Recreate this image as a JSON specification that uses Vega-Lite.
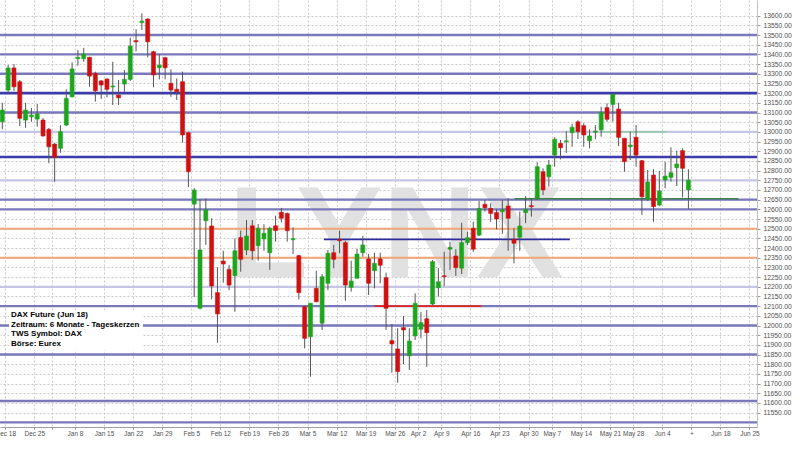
{
  "$schema": "https://vega.github.io/schema/vega-lite/v6.json",
  "width": 757,
  "height": 427,
  "autosize": {"type": "none"},
  "padding": {"left": 0, "top": 0, "right": 43, "bottom": 23},
  "background": "#ffffff",
  "config": {"view": {"stroke": null}, "font": "Liberation Sans", "axis": {"labelOverlap": false, "labelFlush": false}},
  "resolve": {"axis": {"x": "independent", "y": "independent"}},
  "datasets": {
    "candles": [
      {"k":0,"o":13052,"h":13150,"l":13013,"c":13113},
      {"k":1,"o":13216,"h":13345,"l":13200,"c":13330},
      {"k":2,"o":13330,"h":13350,"l":13212,"c":13233},
      {"k":3,"o":13259,"h":13268,"l":13030,"c":13070},
      {"k":4,"o":13061,"h":13150,"l":13021,"c":13113},
      {"k":5,"o":13078,"h":13123,"l":13052,"c":13087},
      {"k":6,"o":13066,"h":13144,"l":13027,"c":13092},
      {"k":7,"o":13061,"h":13072,"l":12975,"c":12979},
      {"k":8,"o":13013,"h":13020,"l":12838,"c":12923},
      {"k":9,"o":12937,"h":12942,"l":12743,"c":12869},
      {"k":10,"o":12915,"h":13035,"l":12892,"c":13001},
      {"k":11,"o":13035,"h":13220,"l":13030,"c":13173},
      {"k":12,"o":13181,"h":13359,"l":13178,"c":13325},
      {"k":13,"o":13378,"h":13423,"l":13342,"c":13385},
      {"k":14,"o":13378,"h":13434,"l":13362,"c":13402},
      {"k":15,"o":13385,"h":13388,"l":13233,"c":13288},
      {"k":16,"o":13302,"h":13311,"l":13156,"c":13212},
      {"k":17,"o":13263,"h":13268,"l":13170,"c":13242},
      {"k":18,"o":13273,"h":13276,"l":13178,"c":13220},
      {"k":19,"o":13232,"h":13362,"l":13139,"c":13237},
      {"k":20,"o":13190,"h":13268,"l":13139,"c":13176},
      {"k":21,"o":13247,"h":13319,"l":13207,"c":13271},
      {"k":22,"o":13271,"h":13486,"l":13263,"c":13443},
      {"k":23,"o":13471,"h":13531,"l":13417,"c":13465},
      {"k":24,"o":13564,"h":13612,"l":13526,"c":13572},
      {"k":25,"o":13583,"h":13586,"l":13385,"c":13465},
      {"k":26,"o":13414,"h":13419,"l":13230,"c":13294},
      {"k":27,"o":13331,"h":13402,"l":13271,"c":13345},
      {"k":28,"o":13383,"h":13388,"l":13271,"c":13331},
      {"k":29,"o":13251,"h":13323,"l":13181,"c":13216},
      {"k":30,"o":13220,"h":13276,"l":13164,"c":13207},
      {"k":31,"o":13259,"h":13311,"l":12944,"c":12984},
      {"k":32,"o":12996,"h":13001,"l":12715,"c":12794},
      {"k":33,"o":12627,"h":12710,"l":12147,"c":12700},
      {"k":34,"o":12089,"h":12653,"l":12084,"c":12390},
      {"k":35,"o":12541,"h":12657,"l":12416,"c":12597},
      {"k":36,"o":12514,"h":12554,"l":12135,"c":12204},
      {"k":37,"o":12170,"h":12301,"l":11911,"c":12060},
      {"k":38,"o":12333,"h":12386,"l":12221,"c":12318},
      {"k":39,"o":12290,"h":12313,"l":12183,"c":12209},
      {"k":40,"o":12257,"h":12450,"l":12071,"c":12386},
      {"k":41,"o":12454,"h":12490,"l":12278,"c":12342},
      {"k":42,"o":12390,"h":12545,"l":12364,"c":12462},
      {"k":43,"o":12515,"h":12545,"l":12338,"c":12386},
      {"k":44,"o":12412,"h":12524,"l":12335,"c":12502},
      {"k":45,"o":12447,"h":12523,"l":12386,"c":12476},
      {"k":46,"o":12376,"h":12510,"l":12287,"c":12502},
      {"k":47,"o":12515,"h":12567,"l":12433,"c":12490},
      {"k":48,"o":12585,"h":12608,"l":12533,"c":12554},
      {"k":49,"o":12579,"h":12583,"l":12433,"c":12490},
      {"k":50,"o":12443,"h":12507,"l":12369,"c":12449},
      {"k":51,"o":12361,"h":12364,"l":12135,"c":12170},
      {"k":52,"o":12097,"h":12101,"l":11882,"c":11934},
      {"k":53,"o":11942,"h":12115,"l":11736,"c":12115},
      {"k":54,"o":12192,"h":12283,"l":12120,"c":12123},
      {"k":55,"o":12012,"h":12266,"l":11977,"c":12252},
      {"k":56,"o":12218,"h":12390,"l":12183,"c":12373},
      {"k":57,"o":12376,"h":12416,"l":12296,"c":12342},
      {"k":58,"o":12445,"h":12490,"l":12373,"c":12438},
      {"k":59,"o":12428,"h":12438,"l":12128,"c":12209},
      {"k":60,"o":12197,"h":12335,"l":12175,"c":12230},
      {"k":61,"o":12244,"h":12395,"l":12244,"c":12369},
      {"k":62,"o":12376,"h":12462,"l":12355,"c":12416},
      {"k":63,"o":12344,"h":12369,"l":12158,"c":12218},
      {"k":64,"o":12283,"h":12376,"l":12192,"c":12321},
      {"k":65,"o":12344,"h":12376,"l":12218,"c":12311},
      {"k":66,"o":12247,"h":12273,"l":11977,"c":12089},
      {"k":67,"o":11922,"h":12008,"l":11756,"c":11905},
      {"k":68,"o":11879,"h":11986,"l":11705,"c":11762},
      {"k":69,"o":11989,"h":12049,"l":11801,"c":11977},
      {"k":70,"o":11844,"h":11986,"l":11770,"c":11920},
      {"k":71,"o":11946,"h":12166,"l":11925,"c":12115},
      {"k":72,"o":11981,"h":12071,"l":11934,"c":12015},
      {"k":73,"o":12035,"h":12080,"l":11787,"c":11963},
      {"k":74,"o":12111,"h":12338,"l":12106,"c":12330},
      {"k":75,"o":12195,"h":12296,"l":12149,"c":12226},
      {"k":76,"o":12257,"h":12381,"l":12204,"c":12252},
      {"k":77,"o":12394,"h":12433,"l":12287,"c":12404},
      {"k":78,"o":12359,"h":12394,"l":12256,"c":12299},
      {"k":79,"o":12296,"h":12531,"l":12266,"c":12428},
      {"k":80,"o":12428,"h":12484,"l":12416,"c":12454},
      {"k":81,"o":12502,"h":12536,"l":12381,"c":12394},
      {"k":82,"o":12467,"h":12643,"l":12462,"c":12605},
      {"k":83,"o":12626,"h":12648,"l":12588,"c":12608},
      {"k":84,"o":12605,"h":12631,"l":12536,"c":12579},
      {"k":85,"o":12583,"h":12600,"l":12497,"c":12550},
      {"k":86,"o":12588,"h":12648,"l":12473,"c":12597},
      {"k":87,"o":12617,"h":12658,"l":12386,"c":12554},
      {"k":88,"o":12445,"h":12502,"l":12321,"c":12425},
      {"k":89,"o":12456,"h":12588,"l":12386,"c":12514},
      {"k":90,"o":12583,"h":12669,"l":12529,"c":12600},
      {"k":91,"o":12619,"h":12658,"l":12562,"c":12614},
      {"k":92,"o":12657,"h":12843,"l":12648,"c":12820},
      {"k":93,"o":12794,"h":12812,"l":12674,"c":12700},
      {"k":94,"o":12768,"h":12855,"l":12717,"c":12829},
      {"k":95,"o":12880,"h":12972,"l":12820,"c":12962},
      {"k":96,"o":12941,"h":12958,"l":12858,"c":12918},
      {"k":97,"o":12949,"h":13004,"l":12892,"c":12954},
      {"k":98,"o":12996,"h":13041,"l":12923,"c":13024},
      {"k":99,"o":13052,"h":13060,"l":12963,"c":13001},
      {"k":100,"o":13032,"h":13044,"l":12923,"c":12984},
      {"k":101,"o":12954,"h":13013,"l":12915,"c":12979},
      {"k":102,"o":12998,"h":13035,"l":12962,"c":13004},
      {"k":103,"o":13010,"h":13130,"l":12975,"c":13101},
      {"k":104,"o":13125,"h":13147,"l":13052,"c":13065},
      {"k":105,"o":13142,"h":13199,"l":13052,"c":13194},
      {"k":106,"o":13118,"h":13151,"l":12927,"c":12972},
      {"k":107,"o":12967,"h":12967,"l":12794,"c":12846},
      {"k":108,"o":12923,"h":13001,"l":12855,"c":12932},
      {"k":109,"o":12972,"h":13035,"l":12820,"c":12880},
      {"k":110,"o":12851,"h":12855,"l":12571,"c":12665},
      {"k":111,"o":12653,"h":12803,"l":12643,"c":12741},
      {"k":112,"o":12777,"h":12807,"l":12536,"c":12614},
      {"k":113,"o":12622,"h":12798,"l":12617,"c":12695},
      {"k":114,"o":12751,"h":12846,"l":12709,"c":12772},
      {"k":115,"o":12765,"h":12920,"l":12743,"c":12789},
      {"k":116,"o":12815,"h":12903,"l":12720,"c":12834},
      {"k":117,"o":12903,"h":12915,"l":12662,"c":12812},
      {"k":118,"o":12700,"h":12807,"l":12602,"c":12751}
    ],
    "hlines": [
      {"p":13500,"kind":"medium"},
      {"p":13400,"kind":"medium"},
      {"p":13300,"kind":"medium"},
      {"p":13200,"kind":"thick"},
      {"p":13100,"kind":"medium"},
      {"p":13000,"kind":"light"},
      {"p":12870,"kind":"thick"},
      {"p":12750,"kind":"light"},
      {"p":12650,"kind":"medium"},
      {"p":12600,"kind":"medium"},
      {"p":12500,"kind":"orange"},
      {"p":12350,"kind":"orange"},
      {"p":12200,"kind":"light"},
      {"p":12100,"kind":"medium"},
      {"p":12000,"kind":"medium"},
      {"p":11850,"kind":"medium"},
      {"p":11610,"kind":"medium"},
      {"p":11500,"kind":"medium"}
    ],
    "segs": [
      {"k1":64.0,"k2":82.4,"p":12100,"kind":"red"},
      {"k1":55.3,"k2":97.6,"p":12445,"kind":"navy"},
      {"k1":88.1,"k2":126.6,"p":12655,"kind":"green"},
      {"k1":102.8,"k2":114.3,"p":13000,"kind":"lightgreen"}
    ],
    "mark": [{"t":"LYNX","k":67.7,"p":12250}],
    "box": [{"k1":1.15,"k2":24.2,"p1":12080,"p2":11874}],
    "info": [
      {"t":"DAX Future (Jun 18)","k":1.5,"p":12054},
      {"t":"Zeitraum: 6 Monate - Tageskerzen","k":1.5,"p":12003},
      {"t":"TWS Symbol: DAX","k":1.5,"p":11956},
      {"t":"Börse: Eurex","k":1.5,"p":11905}
    ]
  },
  "layer": [
    {
      "data": {"name": "candles"},
      "mark": {"type": "rule", "strokeWidth": 0, "opacity": 0},
      "encoding": {
        "x": {
          "field": "k", "type": "quantitative", "title": null,
          "scale": {"domain": [-0.4, 129.8], "nice": false, "zero": false, "padding": 0},
          "axis": {
            "orient": "bottom",
            "title": null,
            "values": [0.5,5.5,8.5,12.5,17.5,22.5,27.5,32.5,37.5,42.5,47.5,52.5,57.5,62.5,67.5,71.5,75.5,80.5,85.5,90.5,94.5,99.5,104.5,108.5,113.5,118.5,123.5,128.5],
            "labelExpr": "['Dec 18','Dec 25','','Jan 8','Jan 15','Jan 22','Jan 29','Feb 5','Feb 12','Feb 19','Feb 26','Mar 5','Mar 12','Mar 19','Mar 26','Apr 2','Apr 9','Apr 16','Apr 23','Apr 30','May 7','May 14','May 21','May 28','Jun 4','+','Jun 18','Jun 25'][indexof([0.5,5.5,8.5,12.5,17.5,22.5,27.5,32.5,37.5,42.5,47.5,52.5,57.5,62.5,67.5,71.5,75.5,80.5,85.5,90.5,94.5,99.5,104.5,108.5,113.5,118.5,123.5,128.5], datum.value)]",
            "labelOverlap": false,
            "labelFlush": false,
            "labelFont": "Liberation Sans",
            "labelFontSize": 6.5,
            "labelColor": "#505050",
            "labelPadding": 1,
            "tickSize": 2,
            "tickColor": "#999999",
            "domainColor": "#a0a0a0",
            "grid": true,
            "gridDash": [2, 2],
            "gridColor": "#c9c9c9",
            "gridWidth": 1
          }
        },
        "y": {
          "field": "l", "type": "quantitative", "title": null,
          "scale": {"domain": [11476, 13681], "nice": false, "zero": false, "padding": 0},
          "axis": {
            "orient": "right",
            "title": null,
            "values": [11550,11600,11650,11700,11750,11800,11850,11900,11950,12000,12050,12100,12150,12200,12250,12300,12350,12400,12450,12500,12550,12600,12650,12700,12750,12800,12850,12900,12950,13000,13050,13100,13150,13200,13250,13300,13350,13400,13450,13500,13550,13600],
            "format": ".2f",
            "labelOverlap": false,
            "labelFlush": false,
            "labelFont": "Liberation Sans",
            "labelFontSize": 6.8,
            "labelColor": "#505050",
            "labelPadding": 3,
            "tickSize": 3,
            "tickColor": "#999999",
            "domainColor": "#c0c0c0",
            "grid": true,
            "gridDash": [2, 2],
            "gridColor": "#c9c9c9",
            "gridWidth": 1
          }
        }
      }
    },
    {
      "data": {"name": "mark"},
      "mark": {"type": "text", "font": "Liberation Sans", "fontWeight": "bold", "fontSize": 130, "align": "center", "baseline": "alphabetic", "color": "#e1e1e1"},
      "encoding": {
        "x": {"field": "k", "type": "quantitative", "axis": null},
        "y": {"field": "p", "type": "quantitative", "axis": null},
        "text": {"field": "t"}
      }
    },
    {
      "data": {"name": "hlines"},
      "mark": {"type": "rule"},
      "encoding": {
        "y": {"field": "p", "type": "quantitative", "axis": null},
        "color": {"field": "kind", "type": "nominal", "legend": null,
          "scale": {"domain": ["thick","medium","light","orange","red","navy","green","lightgreen"], "range": ["#3b3bab","#7878bb","#c6c6e4","#f1a574","#e3261f","#2c2c9e","#3f7f50","#86cc94"]}},
        "strokeWidth": {"field": "kind", "type": "nominal", "legend": null,
          "scale": {"domain": ["thick","medium","light","orange","red","navy","green","lightgreen"], "range": [2.6,1.2,1.6,1.6,2,1.5,1.5,1.5]}}
      }
    },
    {
      "data": {"name": "segs"},
      "mark": {"type": "rule"},
      "encoding": {
        "x": {"field": "k1", "type": "quantitative", "axis": null},
        "x2": {"field": "k2"},
        "y": {"field": "p", "type": "quantitative", "axis": null},
        "color": {"field": "kind", "type": "nominal", "legend": null,
          "scale": {"domain": ["thick","medium","light","orange","red","navy","green","lightgreen"], "range": ["#3b3bab","#7878bb","#c6c6e4","#f1a574","#e3261f","#2c2c9e","#3f7f50","#86cc94"]}},
        "strokeWidth": {"field": "kind", "type": "nominal", "legend": null,
          "scale": {"domain": ["thick","medium","light","orange","red","navy","green","lightgreen"], "range": [2.6,1.2,1.6,1.6,2,1.5,1.5,1.5]}}
      }
    },
    {
      "data": {"name": "box"},
      "mark": {"type": "rect", "color": "#ffffff"},
      "encoding": {
        "x": {"field": "k1", "type": "quantitative", "axis": null},
        "x2": {"field": "k2"},
        "y": {"field": "p1", "type": "quantitative", "axis": null},
        "y2": {"field": "p2"}
      }
    },
    {
      "data": {"name": "info"},
      "mark": {"type": "text", "font": "Liberation Sans", "fontWeight": "bold", "fontSize": 8, "align": "left", "baseline": "middle", "color": "#000000"},
      "encoding": {
        "x": {"field": "k", "type": "quantitative", "axis": null},
        "y": {"field": "p", "type": "quantitative", "axis": null},
        "text": {"field": "t"}
      }
    },
    {
      "data": {"name": "candles"},
      "mark": {"type": "rule", "color": "#555555", "strokeWidth": 1},
      "encoding": {
        "x": {"field": "k", "type": "quantitative", "axis": null},
        "y": {"field": "l", "type": "quantitative", "axis": null},
        "y2": {"field": "h"}
      }
    },
    {
      "data": {"name": "candles"},
      "mark": {"type": "bar", "width": 4, "strokeWidth": 1, "strokeOpacity": 0.6},
      "encoding": {
        "x": {"field": "k", "type": "quantitative", "axis": null},
        "y": {"field": "o", "type": "quantitative", "axis": null},
        "y2": {"field": "c"},
        "fill": {"condition": {"test": "datum.c >= datum.o", "value": "#1ea51e"}, "value": "#d01010"},
        "stroke": {"condition": {"test": "datum.c >= datum.o", "value": "#1ea51e"}, "value": "#d01010"}
      }
    }
  ]
}
